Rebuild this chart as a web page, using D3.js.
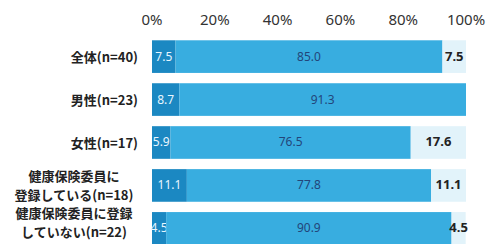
<!DOCTYPE html>
<html>
<head>
<meta charset="utf-8">
<script src="https://cdn.jsdelivr.net/npm/d3@7"></script>
<style>
  body { margin: 0; background: #fff; }
  svg { display: block; }
</style>
</head>
<body>
<svg width="492" height="244"></svg>
<script>
// categories (each entry one line of the label)
var categories = [
  ["全体(n=40)"],
  ["男性(n=23)"],
  ["女性(n=17)"],
  ["健康保険委員に", "登録している(n=18)"],
  ["健康保険委員に登録", "していない(n=22)"]
];
var seriesA = [7.5, 8.7, 5.9, 11.1, 4.5];
var seriesB = [85.0, 91.3, 76.5, 77.8, 90.9];
var seriesC = [7.5, 0, 17.6, 11.1, 4.5];
var tickValues = [0, 20, 40, 60, 80, 100];

var svg = d3.select("svg");
var colors = ["#1b88c2", "#38ade0", "#e2f3fa"];

var x = d3.scaleLinear().domain([0, 100]).range([152, 466]);
var y = d3.scaleBand().domain(d3.range(categories.length)).range([36, 249]).paddingInner(0.24).paddingOuter(0.1);

var rows = categories.map(function(c, i) {
  return [seriesA[i], seriesB[i], seriesC[i]];
});

// top axis labels
svg.append("g").selectAll("text")
  .data(tickValues).enter().append("text")
  .attr("x", function(d) { return x(d); })
  .attr("y", 25)
  .attr("text-anchor", "middle")
  .style("font", "15px 'Noto Sans', sans-serif")
  .style("fill", "#333")
  .text(function(d) { return d + "%"; });

var row = svg.selectAll(".row")
  .data(rows).enter().append("g")
  .attr("class", "row")
  .attr("transform", function(d, i) { return "translate(0," + y(i) + ")"; });

row.each(function(vals, i) {
  var g = d3.select(this);
  var start = 0;
  vals.forEach(function(v, k) {
    var x0 = x(start), x1 = x(start + v);
    if (v > 0) {
      g.append("rect")
        .attr("x", x0).attr("y", 0)
        .attr("width", x1 - x0).attr("height", y.bandwidth())
        .attr("fill", colors[k]);
      g.append("text")
        .attr("x", (x0 + x1) / 2)
        .attr("y", y.bandwidth() / 2 + 4)
        .attr("text-anchor", "middle")
        .style("font", (k == 2 ? "bold 13px" : "12px") + " 'Noto Sans', sans-serif")
        .style("fill", k == 0 ? "#e8f6ff" : (k == 1 ? "#23457a" : "#222"))
        .text(v.toFixed(1));
    }
    start += v;
  });
});

// category labels (two-line ones centred, kept inside the picture)
var lineGap = 19;
svg.append("g").selectAll("text")
  .data(categories).enter().append("text")
  .attr("text-anchor", function(d) { return d.length > 1 ? "middle" : "end"; })
  .attr("x", function(d) { return d.length > 1 ? 74 : 138; })
  .attr("y", function(d, i) {
    var base = y(i) + y.bandwidth() / 2 + 5 - (d.length - 1) * lineGap / 2;
    return Math.min(base, 237 - (d.length - 1) * lineGap);
  })
  .style("font", "bold 13px 'Noto Sans CJK JP', sans-serif")
  .style("fill", "#222")
  .selectAll("tspan")
  .data(function(d) { return d; }).enter().append("tspan")
  .attr("x", function() { return d3.select(this.parentNode).attr("x"); })
  .attr("dy", function(d, i) { return i == 0 ? 0 : lineGap; })
  .text(function(d) { return d; });
</script>
</body>
</html>
